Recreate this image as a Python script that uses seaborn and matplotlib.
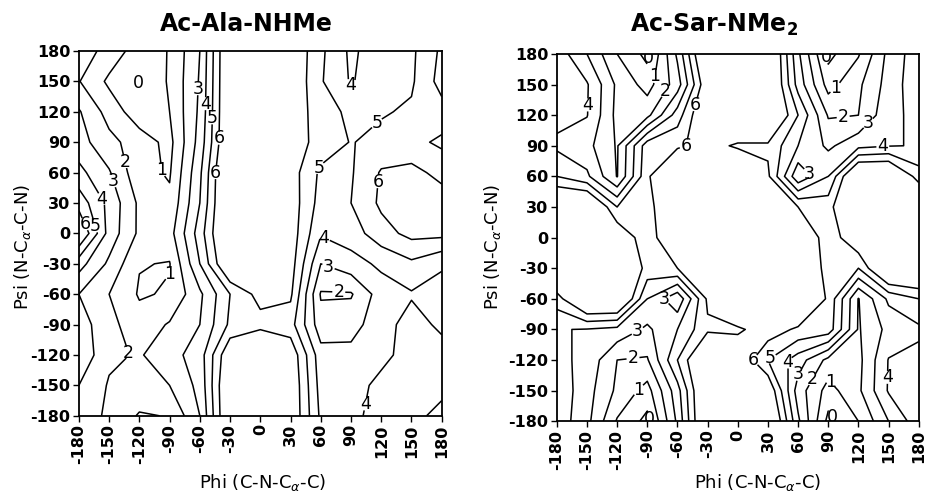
import numpy as np
import matplotlib
matplotlib.use("Agg")
import matplotlib.pyplot as plt
import seaborn as sns

# grid of dihedral angles (degrees); rows of the energy tables run psi = 180 ... -180
phi = [-180, -150, -120, -90, -60, -30, 0, 30, 60, 90, 120, 150, 180]
psi = [180, 150, 120, 90, 60, 30, 0, -30, -60, -90, -120, -150, -180]

# relative energy (kcal/mol), one row per psi value
ala_energy = [
    [2.6, 1.6, 0.5, 1.05, 3.0, 7.5, 8.0, 7.0, 5.2, 3.8, 4.6, 4.8, 6.2],
    [2.05, 0.8, 0.2, 1.1, 3.1, 7.5, 8.0, 7.0, 5.1, 3.9, 4.7, 4.85, 6.4],
    [3.1, 1.6, 0.4, 1.0, 3.2, 7.5, 8.0, 6.8, 5.4, 4.8, 4.9, 5.15, 5.6],
    [3.4, 2.3, 1.5, 0.7, 3.4, 7.5, 8.0, 6.6, 5.6, 4.95, 5.3, 5.3, 4.8],
    [4.3, 3.1, 1.3, 0.9, 3.8, 8.0, 8.0, 6.5, 4.8, 4.9, 6.1, 6.3, 5.7],
    [5.6, 3.7, 1.8, 1.2, 4.0, 8.0, 8.0, 6.6, 4.6, 5.0, 6.2, 6.6, 6.5],
    [7.2, 3.6, 1.8, 1.6, 4.5, 8.0, 8.0, 6.6, 4.1, 4.5, 5.6, 6.3, 6.3],
    [4.4, 2.8, 1.05, 0.95, 4.0, 7.5, 8.0, 6.5, 3.0, 3.6, 4.2, 4.8, 4.1],
    [3.0, 2.0, 0.9, 1.1, 2.8, 5.0, 6.4, 6.2, 1.9, 1.9, 3.5, 3.9, 3.7],
    [3.5, 2.3, 1.4, 2.1, 3.0, 5.2, 5.6, 5.4, 2.4, 2.6, 3.6, 4.4, 3.8],
    [3.8, 2.2, 1.9, 2.6, 3.5, 7.0, 8.0, 6.8, 3.4, 3.3, 3.8, 4.3, 4.4],
    [3.0, 1.9, 1.7, 2.0, 3.3, 7.5, 8.0, 7.0, 3.6, 3.7, 4.2, 4.5, 4.8],
    [2.6, 1.8, 0.9, 1.05, 3.0, 7.5, 8.0, 7.0, 3.8, 3.8, 4.3, 4.8, 5.2],
]

sar_energy = [
    [4.6, 3.0, 1.0, -0.3, 3.2, 8.0, 8.0, 8.0, 3.2, -0.3, 0.9, 3.3, 4.6],
    [4.7, 4.1, 1.8, 0.6, 2.5, 7.0, 8.0, 8.0, 3.6, 0.6, 1.8, 3.4, 4.7],
    [4.3, 4.05, 1.7, 1.7, 4.5, 7.5, 8.0, 8.0, 5.0, 1.9, 2.0, 3.7, 4.3],
    [3.8, 3.3, 1.9, 5.6, 5.8, 6.5, 5.8, 5.8, 4.0, 2.8, 3.7, 3.95, 4.05],
    [5.0, 4.2, 1.95, 5.8, 8.0, 8.0, 8.0, 6.2, 2.2, 4.0, 8.0, 8.0, 5.5],
    [8.0, 8.0, 5.0, 5.4, 8.0, 8.0, 8.0, 8.0, 6.0, 5.6, 8.0, 8.0, 8.0],
    [8.0, 8.0, 7.0, 5.3, 7.5, 8.0, 8.0, 8.0, 7.5, 5.3, 7.0, 8.0, 8.0],
    [8.0, 8.0, 8.0, 5.6, 6.0, 8.0, 8.0, 8.0, 8.0, 5.4, 5.0, 8.0, 8.0],
    [5.5, 8.0, 8.0, 4.0, 2.2, 6.2, 8.0, 8.0, 8.0, 5.8, 1.95, 4.2, 5.0],
    [4.05, 3.95, 3.7, 2.8, 4.0, 5.8, 5.8, 6.6, 5.8, 5.6, 1.9, 3.3, 3.8],
    [4.3, 3.7, 2.0, 1.9, 5.0, 8.0, 7.0, 5.0, 3.5, 1.7, 1.7, 4.05, 4.3],
    [4.7, 3.4, 1.8, 0.6, 3.6, 8.0, 8.0, 7.0, 2.5, 0.6, 1.8, 4.1, 4.7],
    [4.6, 3.3, 0.9, -0.3, 3.2, 8.0, 8.0, 8.0, 3.2, -0.3, 1.0, 3.0, 4.6],
]

contour_levels = [0, 1, 2, 3, 4, 5, 6]
tick_values = [-180, -150, -120, -90, -60, -30, 0, 30, 60, 90, 120, 150, 180]
tick_labels = [str(v) for v in tick_values]

# where the inline level labels sit on each map
ala_label_spots = [(-67, 143), (-56, 128), (-47, 114), (-40, 94), (-44, 60),
                   (-133, 71), (-107, 61), (-148, 51), (-159, 33), (-172, 10),
                   (-161, 8), (-87, -42), (-125, -116), (88, 145), (111, 114),
                   (60, 64), (118, 51), (67, 4), (69, -29), (78, -54), (97, -167)]
sar_label_spots = [(-89, 176), (-83, 158), (-68, 141), (-45, 131), (-151, 130),
                   (-48, 89), (88, 177), (96, 148), (105, 117), (133, 109),
                   (144, 94), (71, 63), (-76, -58), (-99, -93), (-104, -120),
                   (-98, -150), (-89, -178), (10, -125), (30, -115), (50, -122),
                   (62, -135), (76, -140), (91, -142), (96, -174), (149, -137)]

sns.set_style("ticks")
plt.rcParams['font.family'] = ['DejaVu Sans']
plt.rcParams['text.color'] = 'black'
plt.rcParams['axes.labelcolor'] = 'black'

fig = plt.figure(figsize=(9.28, 4.95), dpi=100)
ax1 = fig.add_axes([0.085, 0.160, 0.391, 0.737])
ax2 = fig.add_axes([0.600, 0.149, 0.390, 0.742])


def draw_map(ax, energy, spots):
    z = np.array(energy)[::-1]
    y = psi[::-1]
    ax.set_xlim(-180, 180)
    ax.set_ylim(-180, 180)
    cs = ax.contour(phi, y, z, levels=contour_levels, colors='black', linewidths=1.1)
    labels = ax.clabel(cs, fmt='%d', fontsize=12.5, inline=True, inline_spacing=1,
                       manual=spots)
    for t in labels:
        t.set_rotation(0)
    ax.set_xticks(tick_values)
    ax.set_yticks(tick_values)
    ax.set_xticklabels(tick_labels, rotation=90, fontsize=11.5, fontweight='bold')
    ax.set_yticklabels(tick_labels, fontsize=11.5, fontweight='bold')
    ax.tick_params(direction='out', length=4, width=1, pad=2, colors='black')
    for s in ax.spines.values():
        s.set_linewidth(1.3)
        s.set_color('black')


draw_map(ax1, ala_energy, ala_label_spots)
draw_map(ax2, sar_energy, sar_label_spots)
ax1.text(-121, 148, '0', fontsize=12.5, ha='center', va='center')

fig.text(0.265, 0.952, 'Ac-Ala-NHMe', fontsize=17, fontweight='bold', ha='center', va='center')
fig.text(0.769, 0.950, r'Ac-Sar-NMe$_\mathbf{2}$', fontsize=17, fontweight='bold',
         ha='center', va='center')

for x in (0.024, 0.531):
    fig.text(x, 0.50, r'Psi (N-C$_\alpha$-C-N)', fontsize=13, rotation=90,
             ha='center', va='center')
for x in (0.283, 0.816):
    fig.text(x, 0.026, r'Phi (C-N-C$_\alpha$-C)', fontsize=13, ha='center', va='center')

fig.savefig('out.png', dpi=100)
